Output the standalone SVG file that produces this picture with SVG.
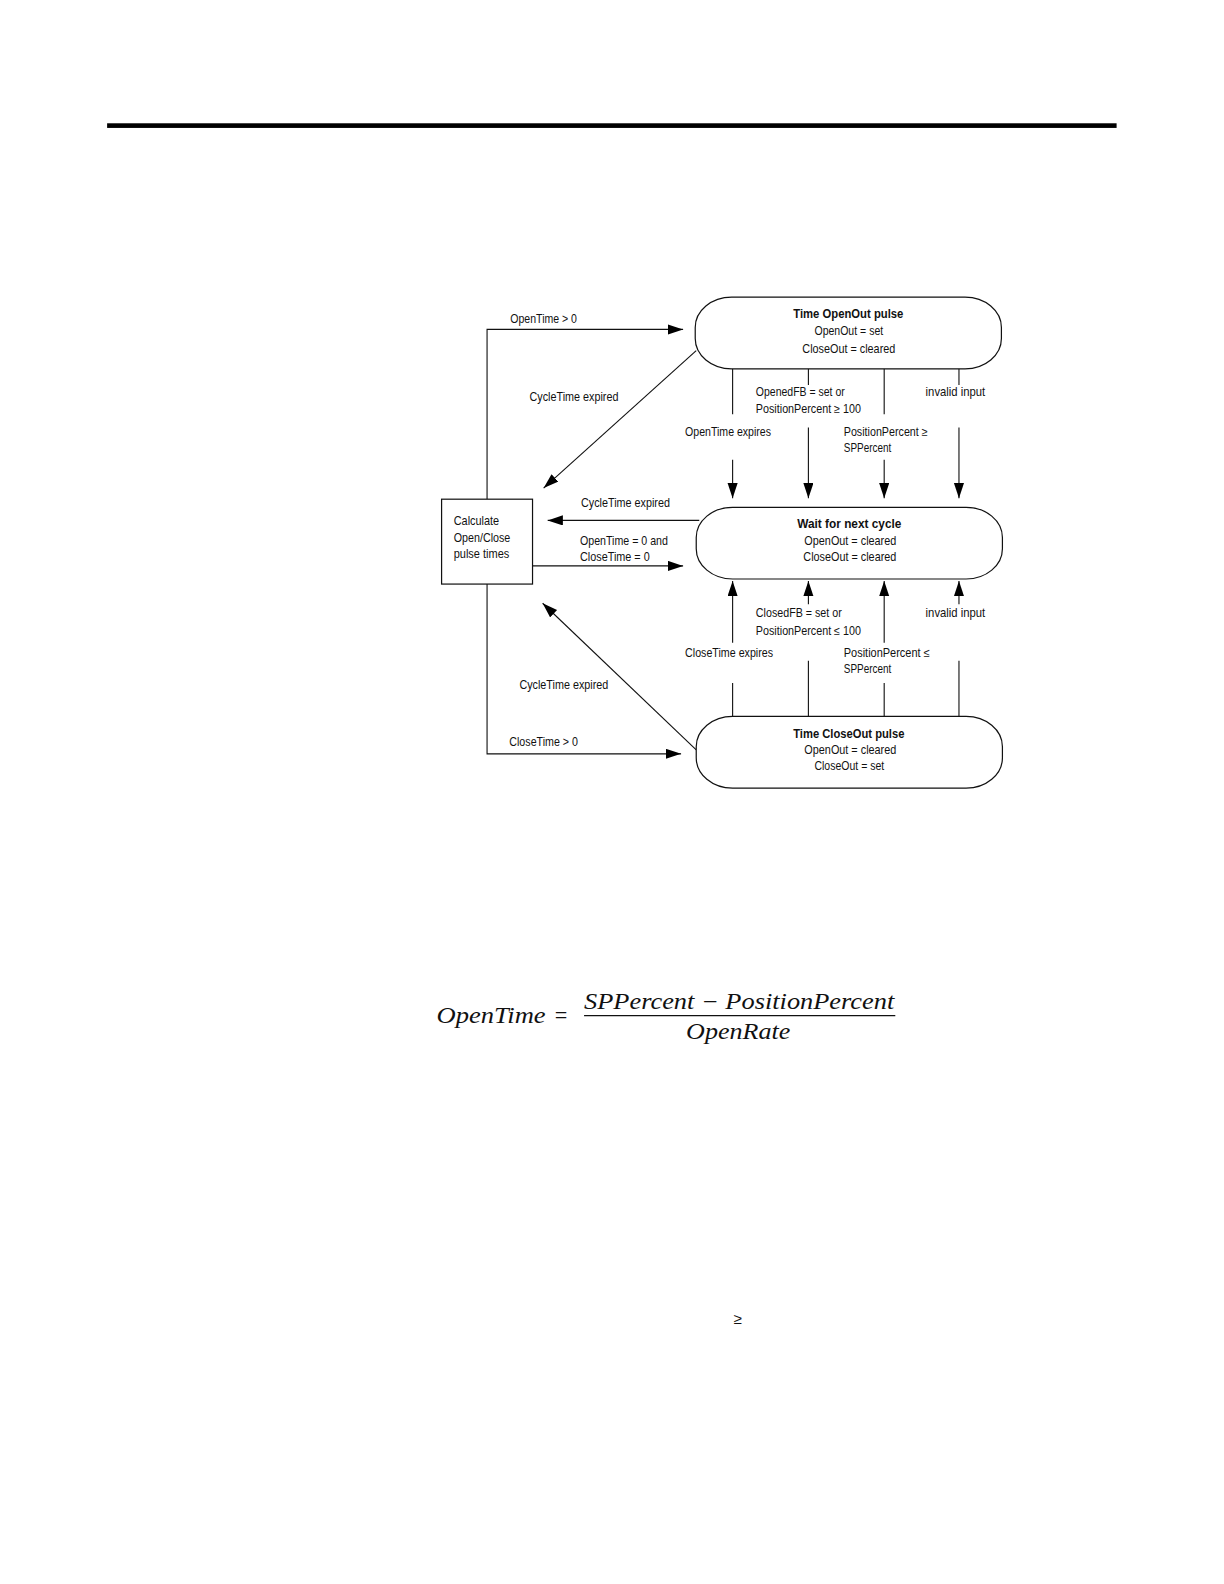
<svg xmlns="http://www.w3.org/2000/svg" width="1224" height="1584" viewBox="0 0 1224 1584">
<defs>
<marker id="ah" markerUnits="userSpaceOnUse" markerWidth="16" markerHeight="12" refX="15" refY="5" orient="auto">
<path d="M0,0 L15,5 L0,10 Z" fill="#000"/>
</marker>
</defs>
<style>
.t{font-family:"Liberation Sans",Arial,sans-serif;font-size:12px;fill:#111}
.b{font-weight:bold}
.c{stroke:#111;stroke-width:1.1;fill:none}
.n{stroke:#111;stroke-width:1.2;fill:#fff}
.f{font-family:"Liberation Serif","Times New Roman",serif;font-style:italic;font-size:22px;fill:#111}
</style>
<rect width="1224" height="1584" fill="#fff"/>
<g transform="scale(1.0105)">
<rect x="106" y="122" width="999" height="4.6" fill="#000"/>

<g id="connectors">
<polyline class="c" points="482,494 482,326 676,326" marker-end="url(#ah)"/>
<line class="c" x1="689" y1="347" x2="538" y2="483" marker-end="url(#ah)"/>
<line class="c" x1="692" y1="515" x2="542" y2="515" marker-end="url(#ah)"/>
<line class="c" x1="527" y1="560" x2="676" y2="560" marker-end="url(#ah)"/>
<line class="c" x1="689" y1="742" x2="537" y2="597" marker-end="url(#ah)"/>
<polyline class="c" points="482,578 482,746 674,746" marker-end="url(#ah)"/>
<line class="c" x1="725" y1="365" x2="725" y2="410"/>
<line class="c" x1="725" y1="455" x2="725" y2="493" marker-end="url(#ah)"/>
<line class="c" x1="800" y1="365" x2="800" y2="381"/>
<line class="c" x1="800" y1="423" x2="800" y2="493" marker-end="url(#ah)"/>
<line class="c" x1="875" y1="365" x2="875" y2="410"/>
<line class="c" x1="875" y1="455" x2="875" y2="493" marker-end="url(#ah)"/>
<line class="c" x1="949" y1="365" x2="949" y2="381"/>
<line class="c" x1="949" y1="423" x2="949" y2="493" marker-end="url(#ah)"/>
<line class="c" x1="725" y1="709" x2="725" y2="676"/>
<line class="c" x1="725" y1="636" x2="725" y2="575" marker-end="url(#ah)"/>
<line class="c" x1="800" y1="709" x2="800" y2="654"/>
<line class="c" x1="800" y1="598" x2="800" y2="575" marker-end="url(#ah)"/>
<line class="c" x1="875" y1="709" x2="875" y2="676"/>
<line class="c" x1="875" y1="636" x2="875" y2="575" marker-end="url(#ah)"/>
<line class="c" x1="949" y1="709" x2="949" y2="654"/>
<line class="c" x1="949" y1="598" x2="949" y2="575" marker-end="url(#ah)"/>
</g>

<g id="labels">
<text class="t" x="505" y="320" textLength="66" lengthAdjust="spacingAndGlyphs">OpenTime &gt; 0</text>
<text class="t" x="524" y="397" textLength="88" lengthAdjust="spacingAndGlyphs">CycleTime expired</text>
<text class="t" x="575" y="502" textLength="88" lengthAdjust="spacingAndGlyphs">CycleTime expired</text>
<text class="t" x="574" y="539" textLength="87" lengthAdjust="spacingAndGlyphs">OpenTime = 0 and</text>
<text class="t" x="574" y="555" textLength="69" lengthAdjust="spacingAndGlyphs">CloseTime = 0</text>
<text class="t" x="514" y="682" textLength="88" lengthAdjust="spacingAndGlyphs">CycleTime expired</text>
<text class="t" x="504" y="738" textLength="68" lengthAdjust="spacingAndGlyphs">CloseTime &gt; 0</text>
<text class="t" x="748" y="392" textLength="88" lengthAdjust="spacingAndGlyphs">OpenedFB = set or</text>
<text class="t" x="748" y="409" textLength="104" lengthAdjust="spacingAndGlyphs">PositionPercent ≥ 100</text>
<text class="t" x="916" y="392" textLength="59" lengthAdjust="spacingAndGlyphs">invalid input</text>
<text class="t" x="678" y="431" textLength="85" lengthAdjust="spacingAndGlyphs">OpenTime expires</text>
<text class="t" x="835" y="431" textLength="83" lengthAdjust="spacingAndGlyphs">PositionPercent ≥</text>
<text class="t" x="835" y="447" textLength="47" lengthAdjust="spacingAndGlyphs">SPPercent</text>
<text class="t" x="748" y="611" textLength="85" lengthAdjust="spacingAndGlyphs">ClosedFB = set or</text>
<text class="t" x="748" y="628" textLength="104" lengthAdjust="spacingAndGlyphs">PositionPercent ≤ 100</text>
<text class="t" x="916" y="611" textLength="59" lengthAdjust="spacingAndGlyphs">invalid input</text>
<text class="t" x="678" y="650" textLength="87" lengthAdjust="spacingAndGlyphs">CloseTime expires</text>
<text class="t" x="835" y="650" textLength="85" lengthAdjust="spacingAndGlyphs">PositionPercent ≤</text>
<text class="t" x="835" y="666" textLength="47" lengthAdjust="spacingAndGlyphs">SPPercent</text>
</g>

<g id="node-open">
<rect class="n" x="688" y="294" width="303" height="71" rx="36" ry="30"/>
<text class="t b" x="785" y="315" textLength="109" lengthAdjust="spacingAndGlyphs">Time OpenOut pulse</text>
<text class="t" x="806" y="332" textLength="68" lengthAdjust="spacingAndGlyphs">OpenOut = set</text>
<text class="t" x="794" y="349" textLength="92" lengthAdjust="spacingAndGlyphs">CloseOut = cleared</text>
</g>

<g id="node-wait">
<rect class="n" x="689" y="502" width="303" height="71" rx="36" ry="30"/>
<text class="t b" x="789" y="523" textLength="103" lengthAdjust="spacingAndGlyphs">Wait for next cycle</text>
<text class="t" x="796" y="539" textLength="91" lengthAdjust="spacingAndGlyphs">OpenOut = cleared</text>
<text class="t" x="795" y="555" textLength="92" lengthAdjust="spacingAndGlyphs">CloseOut = cleared</text>
</g>

<g id="node-close">
<rect class="n" x="689" y="709" width="303" height="71" rx="36" ry="30"/>
<text class="t b" x="785" y="730" textLength="110" lengthAdjust="spacingAndGlyphs">Time CloseOut pulse</text>
<text class="t" x="796" y="746" textLength="91" lengthAdjust="spacingAndGlyphs">OpenOut = cleared</text>
<text class="t" x="806" y="762" textLength="69" lengthAdjust="spacingAndGlyphs">CloseOut = set</text>
</g>

<g id="node-calc">
<rect class="n" x="437" y="494" width="90" height="84"/>
<text class="t" x="449" y="520" textLength="45" lengthAdjust="spacingAndGlyphs">Calculate</text>
<text class="t" x="449" y="536" textLength="56" lengthAdjust="spacingAndGlyphs">Open/Close</text>
<text class="t" x="449" y="552" textLength="55" lengthAdjust="spacingAndGlyphs">pulse times</text>
</g>

<g id="formula">
<text class="f" x="432" y="1012" textLength="108" lengthAdjust="spacingAndGlyphs">OpenTime</text>
<text class="f" x="549" y="1012" style="font-style:normal">=</text>
<text class="f" x="578" y="999" textLength="307" lengthAdjust="spacingAndGlyphs">SPPercent − PositionPercent</text>
<line x1="578" y1="1005" x2="886" y2="1005" stroke="#111" stroke-width="1.2"/>
<text class="f" x="679" y="1028" textLength="103" lengthAdjust="spacingAndGlyphs">OpenRate</text>
</g>
<text x="726" y="1310" style="font-family:'Liberation Sans',Arial,sans-serif;font-size:15px;fill:#111">≥</text>
</g>
</svg>
